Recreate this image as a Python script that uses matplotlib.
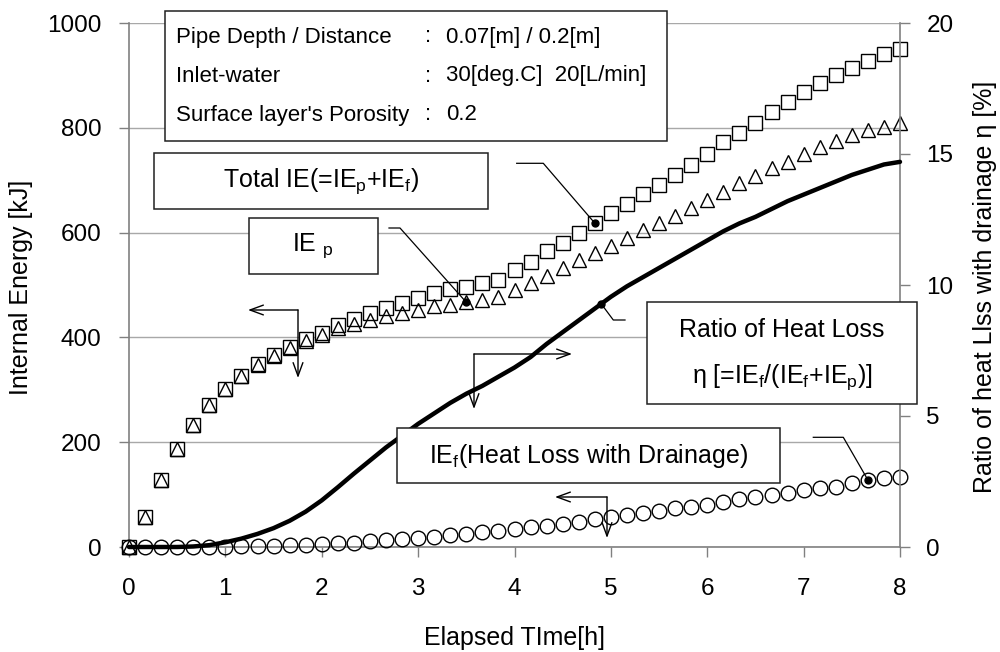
import numpy as np
import matplotlib
matplotlib.use("Agg")
import matplotlib.pyplot as plt
from matplotlib.patches import Rectangle, FancyArrowPatch
from matplotlib.lines import Line2D

plt.rcParams['font.family'] = ['Liberation Sans', 'DejaVu Sans']
plt.rcParams['mathtext.fontset'] = 'custom'
plt.rcParams['mathtext.rm'] = 'Liberation Sans'
plt.rcParams['mathtext.it'] = 'Liberation Sans:italic'

# ---- data: sampled every 10 minutes over 8 hours ----
elapsed_min = list(range(0, 481, 10))

total_ie = [0, 57, 128, 187, 233, 271, 301, 327, 349, 367, 382, 397, 408,
            423, 436, 447, 457, 466, 475, 484, 492, 497, 503, 510, 529, 544,
            564, 581, 599, 618, 637, 654, 673, 690, 709, 729, 750, 772, 791,
            810, 831, 849, 868, 885, 900, 914, 928, 941, 950]

ie_p = [0, 57, 128, 187, 233, 271, 301, 326, 348, 365, 380, 394, 405,
        417, 426, 434, 441, 447, 452, 459, 462, 467, 471, 478, 490, 503,
        517, 532, 548, 562, 574, 589, 605, 618, 632, 646, 662, 678, 694,
        708, 723, 735, 750, 763, 775, 786, 795, 802, 809]

ie_f = [0, 0, 0, 0, 0, 0.5, 0.5, 1, 1, 2, 3, 4, 5, 7, 8, 11, 13, 15, 18,
        20, 23, 25, 28, 31, 34, 38, 41, 44, 48, 53, 57, 61, 65, 69, 74, 77,
        81, 86, 91, 95, 99, 104, 109, 112, 115, 122, 128, 131, 134]

eta = [0, 0, 0, 0, 0.02, 0.07, 0.18, 0.32, 0.5, 0.72, 1.0, 1.35, 1.78,
       2.28, 2.8, 3.3, 3.8, 4.25, 4.7, 5.1, 5.5, 5.85, 6.15, 6.5, 6.85,
       7.25, 7.75, 8.2, 8.65, 9.1, 9.55, 9.95, 10.3, 10.65, 11.0, 11.35,
       11.7, 12.05, 12.35, 12.6, 12.9, 13.2, 13.45, 13.7, 13.95, 14.2,
       14.4, 14.6, 14.7]

x_ticks = [0, 1, 2, 3, 4, 5, 6, 7, 8]
y_ticks_left = [0, 200, 400, 600, 800, 1000]
y_ticks_right = [0, 5, 10, 15, 20]

info_labels = ["Pipe Depth / Distance", "Inlet-water", "Surface layer's Porosity"]
info_values = ["0.07[m] / 0.2[m]", "30[deg.C]  20[L/min]", "0.2"]

x_label = "Elapsed TIme[h]"
y_label_left = "Internal Energy [kJ]"
y_label_right = "Ratio of heat Llss with drainage η [%]"

label_total = r"Total IE(=IE$_\mathrm{p}$+IE$_\mathrm{f}$)"
label_p = r"IE $_\mathrm{p}$"
label_f = r"IE$_\mathrm{f}$(Heat Loss with Drainage)"
label_ratio_1 = "Ratio of Heat Loss"
label_ratio_2 = r"η [=IE$_\mathrm{f}$/(IE$_\mathrm{f}$+IE$_\mathrm{p}$)]"

# ---- figure ----
W, H = 1000, 652
fig = plt.figure(figsize=(W / 100, H / 100), dpi=100)


def fpt(x, y):
    """pixel position measured from the top-left corner -> figure fraction"""
    return (x / W, 1 - y / H)


ax = fig.add_axes([0.129, 1 - 547 / H, 0.771, 524 / H])
hours = np.array(elapsed_min) / 60.0

GRAY = '#808080'
TICK_SIZE = 17.5
TITLE_SIZE = 18
ax.plot(hours, total_ie, linestyle='none', marker='s', ms=10, mfc='white',
        mec='black', mew=1.0, clip_on=False, zorder=3)
ax.plot(hours, ie_p, linestyle='none', marker='^', ms=10, mfc='none',
        mec='black', mew=1.0, clip_on=False, zorder=4)
ax.plot(hours, ie_f, linestyle='none', marker='o', ms=10.5, mfc='none',
        mec='black', mew=1.0, clip_on=False, zorder=3)

ax.set_xlim(0, 8)
ax.set_ylim(0, 1000)
ax.set_xticks(x_ticks)
ax.set_yticks(y_ticks_left)
ax.grid(axis='y', color='#a8a8a8', lw=1.0)
ax.set_axisbelow(True)
for s in ['top', 'right']:
    ax.spines[s].set_visible(False)
for s in ['left', 'bottom']:
    ax.spines[s].set_color(GRAY)
    ax.spines[s].set_linewidth(1.2)
ax.tick_params(axis='both', direction='out', length=7, width=1.0,
               color=GRAY, labelsize=TICK_SIZE)
ax.tick_params(axis='x', pad=15.5)
ax.tick_params(axis='y', pad=13)

ax2 = ax.twinx()
ax2.plot(hours, eta, color='black', lw=3.2, solid_capstyle='round',
         clip_on=False, zorder=3)
ax2.set_ylim(0, 20)
ax2.set_yticks(y_ticks_right)
for s in ['top', 'left', 'bottom']:
    ax2.spines[s].set_visible(False)
ax2.spines['right'].set_color(GRAY)
ax2.spines['right'].set_linewidth(1.2)
ax2.tick_params(axis='y', direction='out', length=7, width=1.0,
                color=GRAY, labelsize=TICK_SIZE, pad=12)

# axis titles
fig.text(0.5145, 1 - 638 / H, x_label, ha='center', va='center', fontsize=TITLE_SIZE)
fig.text(21 / W, 1 - 287 / H, y_label_left, ha='center', va='center',
         rotation=90, fontsize=TITLE_SIZE)
fig.text(985 / W, 1 - 287 / H, y_label_right, ha='center', va='center',
         rotation=90, fontsize=TITLE_SIZE)

# ---- annotation dots on the series ----
i_total, i_p, i_f = 29, 21, 46
t_eta = 4.9
dots = [
    (ax, hours[i_total], total_ie[i_total]),
    (ax, hours[i_p], ie_p[i_p]),
    (ax, hours[i_f], ie_f[i_f]),
    (ax2, t_eta, np.interp(t_eta, hours, eta)),
]
to_fig = fig.transFigure.inverted()
dot_fig = []
for a, xv, yv in dots:
    a.plot([xv], [yv], 'o', color='black', ms=5, zorder=6, clip_on=False)
    dot_fig.append(to_fig.transform(a.transData.transform((xv, yv))))


def leader(points):
    xs = [p[0] for p in points]
    ys = [p[1] for p in points]
    fig.add_artist(Line2D(xs, ys, transform=fig.transFigure, color='black',
                          lw=0.9, zorder=4))


leader([fpt(516.7, 163.3), fpt(543.3, 163.3), dot_fig[0]])
leader([fpt(389, 228), fpt(400, 228), dot_fig[1]])
leader([fpt(813.3, 437.3), fpt(843.3, 437.3), dot_fig[2]])
leader([dot_fig[3], fpt(613.3, 320), fpt(625, 320)])


# ---- axis indicator arrows ----
def elbow(corner, ends):
    for e in ends:
        fig.add_artist(FancyArrowPatch(fpt(*corner), fpt(*e),
                                       transform=fig.transFigure,
                                       arrowstyle='->,head_length=0.6,head_width=0.22',
                                       mutation_scale=16, lw=1.0, color='black',
                                       shrinkA=0, shrinkB=0, zorder=4))


elbow((298, 310), [(248, 310), (298, 378)])
elbow((474, 354), [(572, 354), (474, 409)])
elbow((607, 497), [(555, 497), (607, 538)])


# ---- text boxes ----
def box(x0, y0, x1, y1):
    fig.add_artist(Rectangle(fpt(x0, y1), (x1 - x0) / W, (y1 - y0) / H,
                             transform=fig.transFigure, facecolor='white',
                             edgecolor='#202020', lw=1.1, zorder=5))


box(165, 11, 667, 141)
for k, (lab, val) in enumerate(zip(info_labels, info_values)):
    yc = 37 + k * 39
    fig.text(176 / W, 1 - yc / H, lab, ha='left', va='center', fontsize=16, zorder=6)
    fig.text(428 / W, 1 - yc / H, ":", ha='center', va='center', fontsize=16, zorder=6)
    fig.text(446 / W, 1 - yc / H, val, ha='left', va='center', fontsize=16, zorder=6)

box(154, 153, 488, 209)
fig.text(321 / W, 1 - 181 / H, label_total, ha='center', va='center', fontsize=18, zorder=6)

box(249, 218, 378, 274)
fig.text(313 / W, 1 - 246 / H, label_p, ha='center', va='center', fontsize=18, zorder=6)

box(397, 428, 780, 483)
fig.text(588 / W, 1 - 456 / H, label_f, ha='center', va='center', fontsize=18, zorder=6)

box(647, 302, 917, 404)
fig.text(782 / W, 1 - 330 / H, label_ratio_1, ha='center', va='center', fontsize=18, zorder=6)
fig.text(782 / W, 1 - 377 / H, label_ratio_2, ha='center', va='center', fontsize=18, zorder=6)

fig.savefig("out.png", dpi=100, facecolor='white')
